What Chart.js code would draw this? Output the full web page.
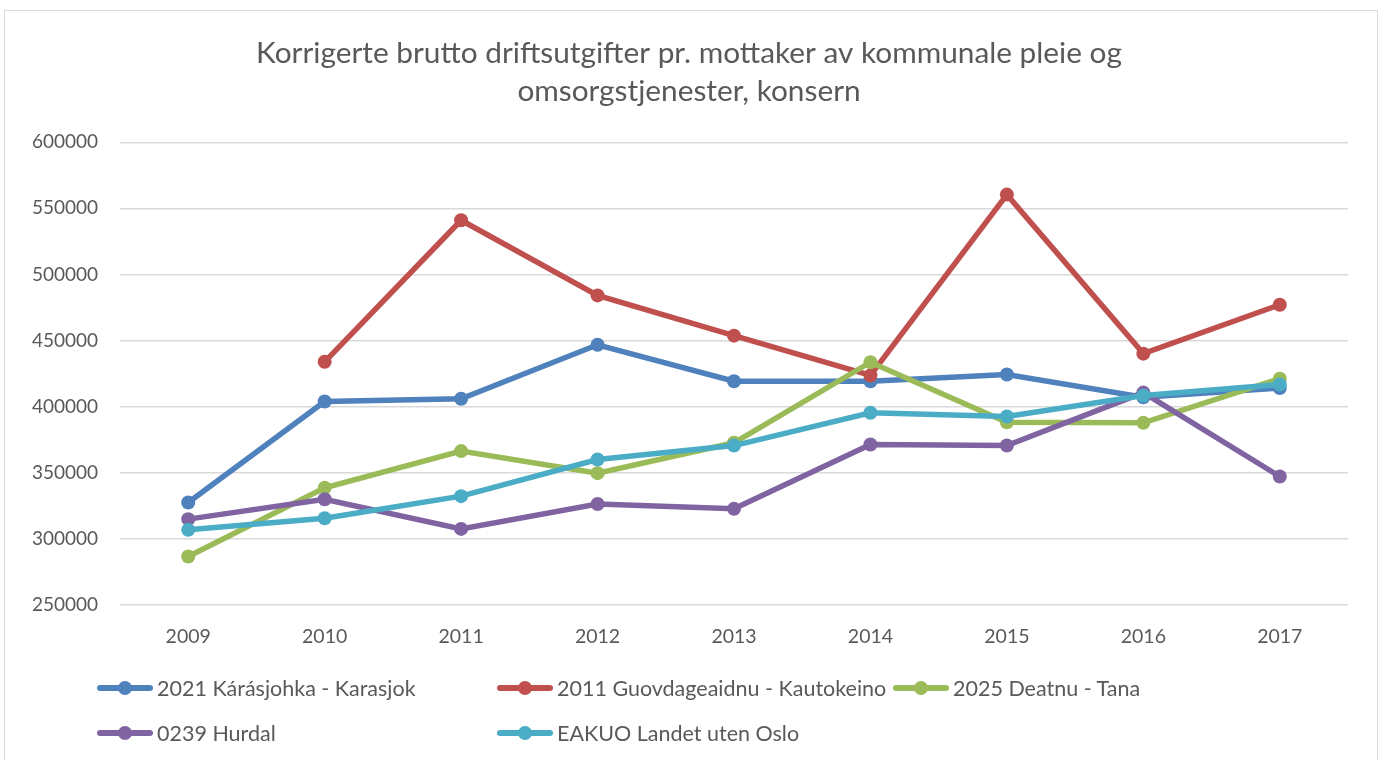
<!DOCTYPE html>
<html>
<head>
<meta charset="utf-8">
<script src="https://cdn.jsdelivr.net/npm/chart.js@4"></script>
<style>
  html, body { margin: 0; padding: 0; background: #fff; }
  body { width: 1381px; height: 760px; position: relative; overflow: hidden; font-family: Lato, sans-serif; }
  #frame { position: absolute; left: 4px; top: 10px; width: 1372px; height: 780px; border: 1px solid #d9d9d9; }
  #wrap { position: absolute; left: 0; top: 0; width: 1381px; height: 760px; }
  #legend { position: absolute; left: 97px; top: 675px; width: 1200px; }
  .item { position: absolute; display: flex; align-items: center; font-size: 21.5px; color: #595959; white-space: nowrap; }
  .mark { position: relative; width: 56px; height: 14px; margin-right: 4px; }
  .mark .ln { position: absolute; left: 0; right: 0; top: 4px; height: 6px; border-radius: 3px; }
  .mark .dot { position: absolute; left: 21px; top: 0; width: 14px; height: 14px; border-radius: 50%; }
</style>
</head>
<body>
<div id="frame"></div>
<div id="wrap"><canvas id="chart"></canvas></div>
<div id="legend"></div>
<script>
const years = ['2009', '2010', '2011', '2012', '2013', '2014', '2015', '2016', '2017'];
const seriesNames = [
  '2021 Kárásjohka - Karasjok',
  '2011 Guovdageaidnu - Kautokeino',
  '2025 Deatnu - Tana',
  '0239 Hurdal',
  'EAKUO Landet uten Oslo'
];
const karasjok = [327300, 403800, 405800, 446700, 419100, 419100, 424200, 407000, 414000];
const kautokeino = [null, 433800, 541000, 484100, 453600, 423500, 560400, 440000, 477000];
const tana = [286400, 338400, 366200, 349500, 372500, 433500, 388100, 387600, 421000];
const hurdal = [314700, 329800, 307300, 326200, 322500, 371200, 370400, 410500, 347000];
const landet = [306600, 315400, 332100, 359800, 370400, 395200, 392400, 408300, 416700];
const yTicks = [250000, 300000, 350000, 400000, 450000, 500000, 550000, 600000];
const colors = ['#4f81bd', '#c0504d', '#9bbb59', '#8064a2', '#4bacc6'];

const allSeries = [karasjok, kautokeino, tana, hurdal, landet];
const textColor = '#595959';

const datasets = allSeries.map((vals, i) => ({
  label: seriesNames[i],
  data: vals,
  borderColor: colors[i],
  backgroundColor: colors[i],
  borderWidth: 5.5,
  pointRadius: 7,
  pointBorderWidth: 0,
  pointBackgroundColor: colors[i],
  tension: 0,
  order: allSeries.length - i
}));

const ctx = document.getElementById('chart').getContext('2d');
const chart = new Chart(ctx, {
  type: 'line',
  data: { labels: years, datasets: datasets },
  options: {
    responsive: true,
    maintainAspectRatio: false,
    animation: false,
    layout: { padding: { top: 10, left: 30, right: 33, bottom: 100 } },
    plugins: {
      legend: { display: false },
      tooltip: { enabled: false },
      title: {
        display: true,
        text: ['Korrigerte brutto driftsutgifter pr. mottaker av kommunale pleie og', 'omsorgstjenester, konsern'],
        color: textColor,
        font: { family: 'Lato', size: 29.8, weight: 'normal', lineHeight: 1.28 },
        padding: { top: 24, bottom: 32 }
      }
    },
    scales: {
      x: {
        offset: true,
        grid: { display: false },
        border: { display: false },
        ticks: { color: textColor, font: { family: 'Lato', size: 19.5 }, padding: 12, maxRotation: 0 }
      },
      y: {
        min: 250000,
        max: 600000,
        afterFit: scale => { scale.width = 90; },
        afterBuildTicks: scale => { scale.ticks = yTicks.map(v => ({ value: v })); },
        grid: { color: '#d9d9d9', lineWidth: 1.5, drawTicks: false },
        border: { display: false },
        ticks: {
          color: textColor,
          font: { family: 'Lato', size: 19 },
          padding: 22,
          callback: v => String(v)
        }
      }
    }
  }
});

// html legend laid out in columns like the original
const legendEl = document.getElementById('legend');
const cols = [0, 400, 796];
chart.data.datasets.forEach((ds, i) => {
  const item = document.createElement('div');
  item.className = 'item';
  item.style.left = cols[i % 3] + 'px';
  item.style.top = (Math.floor(i / 3) * 45) + 'px';
  item.innerHTML = '<span class="mark"><span class="ln" style="background:' + ds.borderColor +
    '"></span><span class="dot" style="background:' + ds.borderColor + '"></span></span>' + ds.label;
  legendEl.appendChild(item);
});
</script>
</body>
</html>
